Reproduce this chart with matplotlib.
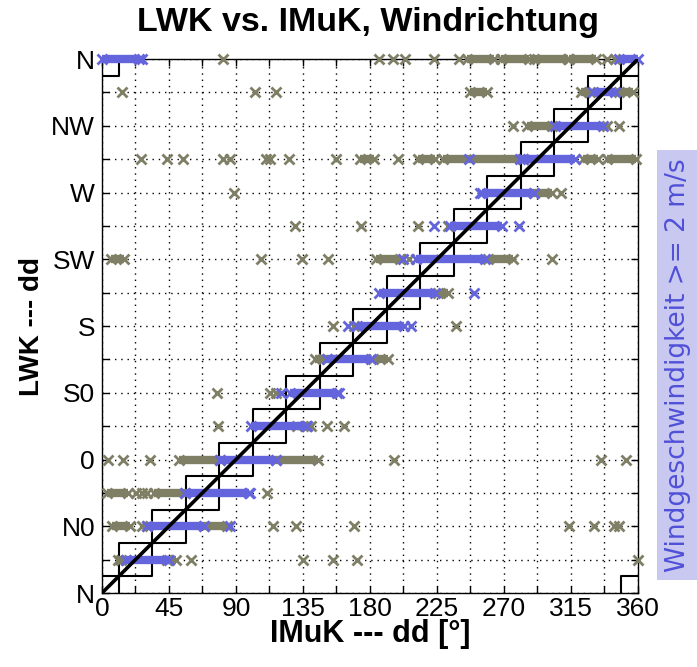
import numpy as np
import matplotlib
matplotlib.use("Agg")
import matplotlib.pyplot as plt

plt.rcParams['font.family'] = ['Liberation Sans', 'DejaVu Sans']

# LWK sectors (16 compass points, N plotted at 360)
sector_deg = np.arange(0, 361, 22.5)
ytick_labels = ['N', '', 'N0', '', '0', '', 'S0', '', 'S', '', 'SW', '', 'W', '', 'NW', '', 'N']

# all values: (LWK dd, IMuK dd)
grey_single = [
    (22.5, 13), (22.5, 60), (22.5, 135), (22.5, 155), (22.5, 171), (22.5, 360),
    (45, 27), (45, 30), (45, 115), (45, 130), (45, 169.5), (45, 313.5), (45, 330.5), (45, 344), (45, 347),
    (67.5, 23), (67.5, 27), (67.5, 30), (67.5, 111),
    (90, 4), (90, 14), (90, 32), (90, 196), (90, 335), (90, 352),
    (112.5, 78), (112.5, 140.5), (112.5, 151), (112.5, 162.5),
    (135, 77.5), (135, 113), (135, 117),
    (180, 155), (180, 169), (180, 237.5),
    (225, 106.5), (225, 134.5), (225, 151.5), (225, 206), (225, 302),
    (247.5, 129.5), (247.5, 174), (247.5, 212.5), (247.5, 232.5),
    (270, 89), (270, 308),
    (292.5, 26), (292.5, 44), (292.5, 54.5), (292.5, 81), (292.5, 86), (292.5, 110), (292.5, 113),
    (292.5, 125.5), (292.5, 157), (292.5, 198.5),
    (315, 276), (315, 339), (315, 347),
    (337.5, 13.5), (337.5, 102.5), (337.5, 117),
    (360, 81.5), (360, 186), (360, 195.5), (360, 203.5), (360, 223), (360, 239.5), (360, 339), (360, 344.5),
]

# dense runs of values: (LWK dd, IMuK from, IMuK to)
grey_runs = [
    (22.5, 11, 16), (22.5, 44, 50),
    (45, 7, 19), (45, 68.5, 84),
    (67.5, 3.5, 17.5), (67.5, 35, 55.5),
    (90, 52, 79), (90, 117, 145),
    (112.5, 131, 138),
    (157.5, 143, 151), (157.5, 182, 192),
    (202.5, 226, 232.5),
    (225, 6, 15), (225, 184, 200), (225, 259.5, 276),
    (270, 290.5, 302),
    (292.5, 173.5, 183), (292.5, 212.5, 224), (292.5, 229, 283), (292.5, 323, 333), (292.5, 339, 359),
    (315, 285.5, 302),
    (337.5, 247.5, 258.5), (337.5, 322, 328), (337.5, 347, 356.5),
    (360, 245.5, 263), (360, 268, 287), (360, 290, 313), (360, 314, 331.5),
]

# wind speed >= 2 m/s
blue_single = [
    (45, 86), (67.5, 99.5), (112.5, 138), (135, 120), (135, 159),
    (180, 165), (180, 207.5), (202.5, 250), (225, 202),
    (247.5, 223), (247.5, 280), (270, 254), (292.5, 246.5), (292.5, 281), (360, 27),
]

blue_runs = [
    (22.5, 16, 45), (45, 30.5, 68.5), (67.5, 55.5, 99), (90, 79, 117),
    (112.5, 100, 137), (135, 126, 158), (157.5, 151, 180.5), (180, 171, 203),
    (202.5, 186, 224), (225, 211, 257), (247.5, 233.5, 269), (270, 255, 290.5),
    (292.5, 283, 317.5), (315, 304.5, 336.5), (337.5, 329.5, 344.5),
    (360, 0, 25), (360, 347, 360),
]

grey_col = '#7f7f66'
blue_col = '#6464dc'

fig = plt.figure(figsize=(6.97, 6.67), dpi=100)
ax = fig.add_axes([0.1463, 0.1109, 0.7690, 0.8006])


def draw_points(single, runs, col, z):
    for y, x0, x1 in runs:
        ax.hlines(y, x0, x1, colors=col, linewidth=6, zorder=z, clip_on=False)
        ax.plot([x0, x1], [y, y], 'x', color=col, markersize=7, markeredgewidth=2,
                zorder=z, clip_on=False)
    ys = [p[0] for p in single]
    xs = [p[1] for p in single]
    ax.plot(xs, ys, 'x', color=col, markersize=7, markeredgewidth=2, zorder=z, clip_on=False)


draw_points(grey_single, grey_runs, grey_col, 3)
draw_points(blue_single, blue_runs, blue_col, 4)

# +-11.25 deg boxes around every sector, incl. the wrap-around at N
half = 11.25
centres = [(c, c) for c in sector_deg] + [(0, 360), (360, 0)]
for cx, cy in centres:
    ax.plot([cx - half, cx + half, cx + half, cx - half, cx - half],
            [cy - half, cy - half, cy + half, cy + half, cy - half],
            color='k', linewidth=1.5, zorder=2)

ax.plot([0, 360], [0, 360], color='k', linewidth=2.6, zorder=5)

ax.set_xlim(0, 360)
ax.set_ylim(0, 360)
ax.set_xticks(sector_deg)
ax.set_xticklabels([str(int(v)) if v % 45 == 0 else '' for v in sector_deg])
ax.set_yticks(sector_deg)
ax.set_yticklabels(ytick_labels)
ax.tick_params(direction='in', top=True, right=True, length=5, width=1, labelsize=19, pad=5)
ax.tick_params(axis='x', pad=3)
ax.grid(True, linestyle=(0, (1, 3.5)), color='k', linewidth=1.0)
ax.set_axisbelow(True)
for s in ax.spines.values():
    s.set_linewidth(1.0)

fig.text(0.528, 0.967, 'LWK vs. IMuK, Windrichtung', fontsize=24.5, fontweight='bold',
         ha='center', va='center')
ax.set_xlabel('IMuK --- dd [°]', fontsize=22, fontweight='bold')
ax.xaxis.set_label_coords(0.5, -0.049)
ax.set_ylabel('LWK --- dd', fontsize=20, fontweight='bold')
ax.yaxis.set_label_coords(-0.106, 0.5)

fig.text(0.973, 0.453, 'Windgeschwindigkeit >= 2 m/s', rotation=90, ha='center', va='center',
         fontsize=19, color='#5050d8', family='DejaVu Sans',
         bbox=dict(boxstyle='square,pad=0.3', facecolor='#c8c8f0', edgecolor='none'))

fig.savefig('out.png', dpi=100)
